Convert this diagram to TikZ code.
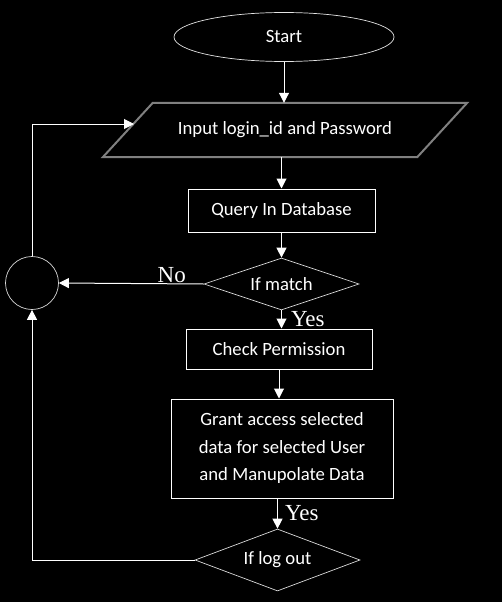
\documentclass[tikz,border=0pt]{standalone}
\usepackage{fontspec}
\setmainfont{Carlito}
\newfontfamily\timesfont{Liberation Serif}
\usetikzlibrary{shapes.geometric}
\usetikzlibrary{arrows, arrows.meta}
\usetikzlibrary{calc}

\tikzset{
  flow/.style={white, line width=1pt, -{Triangle[width=10pt,length=10pt]}},
  proc/.style={draw=white, line width=1pt, rectangle, inner sep=0pt, text=white},
  cond/.style={draw=white!85!black, line width=0.7pt, diamond, aspect=3, inner sep=0pt, text=white},
  lab/.style={text=white, font=\timesfont\fontsize{23}{26}\selectfont, inner sep=1pt}
}

\begin{document}
\begin{tikzpicture}[x=1pt, y=-1pt, font=\fontsize{18.7}{27.5}\selectfont]
      \fill [black] (0,0) rectangle (502,602);
      \node [draw=white!90!black, line width=0.7pt, ellipse, minimum width=220pt, minimum height=49pt, inner sep=0pt, text=white] (start) at (284,37) {Start};
      \node [minimum width=314pt, minimum height=54pt, inner sep=0pt, text=white] (input) at (285,130) {Input login\_id and Password};
      \draw [white!50!black, line width=2pt] ([xshift=25pt]input.north west) -- ([xshift=25pt]input.north east) -- ([xshift=-25pt]input.south east) -- ([xshift=-25pt]input.south west) -- cycle;
      \node [proc, minimum width=187pt, minimum height=43pt] (query) at (281.5,210.5) {Query In Database};
      \node [cond, minimum width=155pt, minimum height=52pt] (match) at (281.5,284) {If match};
      \node [proc, minimum width=186pt, minimum height=40pt] (check) at (279,349) {Check Permission};
      \node [proc, minimum width=222pt, minimum height=99pt, align=center] (grant) at (282,448.5) {Grant access selected\\data for selected User\\and Manupolate Data};
      \node [cond, minimum width=165pt, minimum height=62pt] (logout) at (277.5,560) {If log out};
      \node [draw=white!85!black, line width=0.7pt, circle, minimum size=53pt, inner sep=0pt] (join) at (32,283) {};
      \coordinate (back) at (134,124);
      \draw [flow] (start.south) -- (start.south |- input.north);
      \draw [flow] (query.north |- input.south) -- (query.north);
      \draw [flow] (query.south) -- (match.north);
      \draw [flow] (match.south) -- (match.south |- check.north) node [lab, midway, right, xshift=8pt] {Yes};
      \draw [flow] (check.south) -- (check.south |- grant.north);
      \draw [flow] (logout.north |- grant.south) -- (logout.north) node [lab, midway, right, xshift=6pt] {Yes};
      \draw [flow] (match.west) -- (join.east) node [lab, pos=0.22, above] {No};
      \draw [flow] (logout.west) -| (join.south);
      \draw [flow] (join.north) |- (back);
    \end{tikzpicture}
\end{document}
